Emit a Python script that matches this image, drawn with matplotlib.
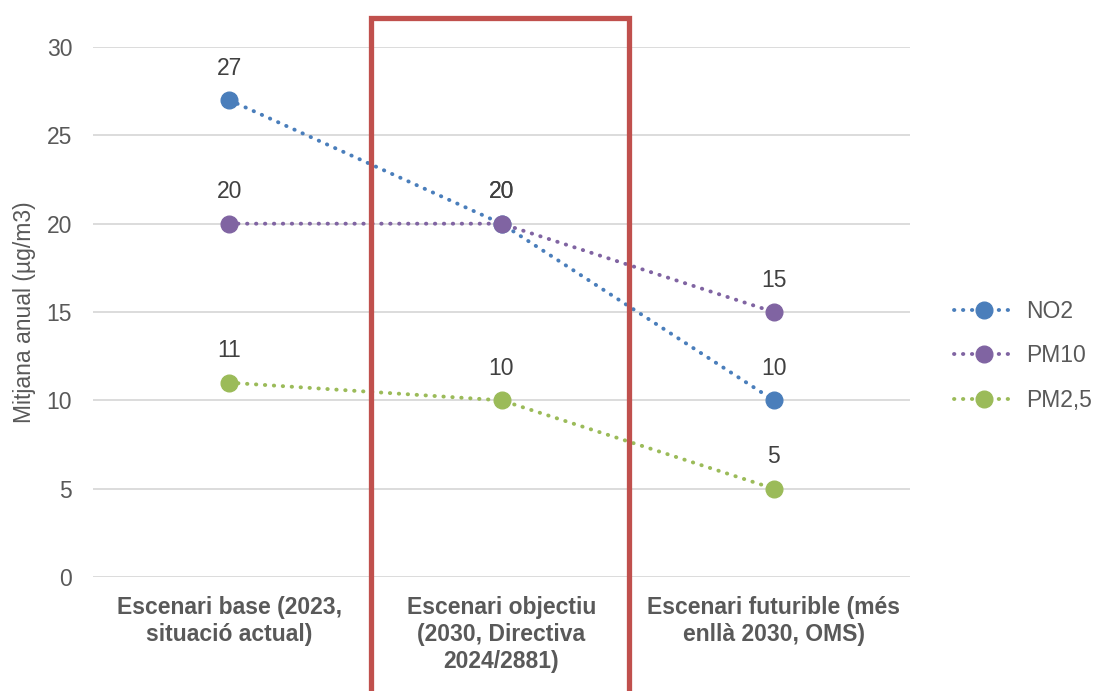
import matplotlib.pyplot as plt
from matplotlib.lines import Line2D

plt.rcParams['font.family'] = ['Liberation Sans', 'DejaVu Sans']

escenaris = ['Escenari base (2023,\nsituació actual)',
             'Escenari objectiu\n(2030, Directiva\n2024/2881)',
             'Escenari futurible (més\nenllà 2030, OMS)']
no2 = [27, 20, 10]
pm10 = [20, 20, 15]
pm25 = [11, 10, 5]

series = [('NO2', no2, '#4A7EBB'),
          ('PM10', pm10, '#8064A2'),
          ('PM2,5', pm25, '#9BBB59')]

W, H = 1101, 691
fig = plt.figure(figsize=(W / 100, H / 100), dpi=100)
ax = fig.add_axes([93 / W, (H - 577) / H, (910 - 93) / W, (577 - 47) / H])

x = list(range(len(escenaris)))
for nom, vals, col in series:
    ax.plot(x, vals, linestyle=(0, (0.1, 2.2)), dash_capstyle='round', linewidth=2.8,
            color=col, marker='o', markersize=12, label=nom, zorder=3)
    for xi, v in zip(x, vals):
        ax.text(xi, v + 1.8, str(v), ha='center', va='center', fontsize=16.5, color='#404040')

ax.set_xlim(-0.5, 2.5)
ax.set_ylim(0, 30)
ax.set_yticks(range(0, 31, 5))
ax.yaxis.grid(True, color='#D9D9D9', linewidth=1.3)
ax.set_axisbelow(True)
for s in ax.spines.values():
    s.set_visible(False)
ax.tick_params(axis='y', length=0, labelsize=16.5, labelcolor='#595959', pad=15)
ax.tick_params(axis='x', length=0, pad=14)
ax.set_xticks(x)
ax.set_xticklabels(escenaris, fontsize=16.5, fontweight='bold', color='#595959',
                   va='top', linespacing=1.22)
ax.set_ylabel('Mitjana anual (µg/m3)', fontsize=16.5, color='#595959', labelpad=8)

ax.legend(loc='center left', bbox_to_anchor=(1.043, 0.417), frameon=False, fontsize=16.5,
          handlelength=2.6, labelcolor='#595959', labelspacing=0.92, handletextpad=0.55,
          borderaxespad=0)

# recuadre de l'escenari objectiu
box = Line2D([371 / W, 371 / W, 629 / W, 629 / W],
             [-0.05, (H - 18) / H, (H - 18) / H, -0.05],
             transform=fig.transFigure, color='#C0504D', linewidth=3.8,
             solid_joinstyle='miter', clip_on=False, zorder=10)
fig.add_artist(box)

fig.savefig('out.png', dpi=100)
